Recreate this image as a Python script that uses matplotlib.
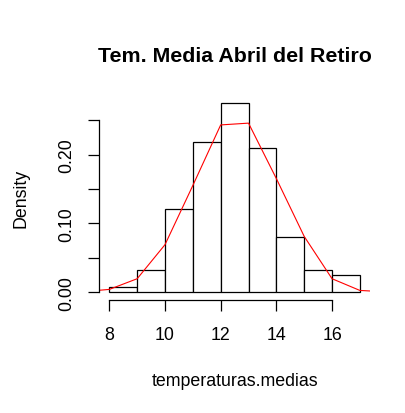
import matplotlib
matplotlib.use('Agg')
import matplotlib.pyplot as plt

plt.rcParams['font.family'] = ['Liberation Sans', 'DejaVu Sans']

# histogram of temperaturas.medias (density scale), bins of width 1
bin_edges = [8, 9, 10, 11, 12, 13, 14, 15, 16, 17]
densities = [0.0081, 0.0323, 0.121, 0.2177, 0.2742, 0.2097, 0.0806, 0.0323, 0.0242]

# red curve drawn over the histogram
curve_x = [7, 8, 9, 10, 11, 12, 13, 14, 15, 16, 17, 18]
curve_y = [0.0005, 0.004, 0.0195, 0.069, 0.155, 0.243, 0.2456, 0.165, 0.081, 0.0195, 0.0025, 0.0003]

xticks = [8, 10, 12, 14, 16]
yticks = [0.00, 0.05, 0.10, 0.15, 0.20, 0.25]
ytick_labels = ['0.00', '', '0.10', '', '0.20', '']

W, H = 406, 414
fig = plt.figure(figsize=(W / 100, H / 100), dpi=100, facecolor='white')
# plot region in pixels
left, right, top, bottom = 99.3, 369.9, 96.9, 300.7
ax = fig.add_axes([left / W, 1 - bottom / H, (right - left) / W, (bottom - top) / H])

ax.bar(bin_edges[:-1], densities, width=1, align='edge',
       facecolor='white', edgecolor='black', linewidth=0.9)
ax.plot(curve_x, curve_y, color='red', linewidth=0.8)

ymax = max(densities)
ax.set_xlim(8 - 0.36, 17 + 0.36)
ax.set_ylim(-0.04 * ymax, ymax * 1.04)

for s in ['top', 'right']:
    ax.spines[s].set_visible(False)
ax.spines['left'].set_bounds(0, 0.25)
ax.spines['bottom'].set_bounds(8, 16)
for s in ['left', 'bottom']:
    ax.spines[s].set_linewidth(0.9)

ax.set_xticks(xticks)
ax.set_xticklabels([str(t) for t in xticks])
ax.set_yticks(yticks)
ax.set_yticklabels(ytick_labels, rotation=90, va='center')
ax.tick_params(axis='both', length=7.9, width=0.9, labelsize=12.8, colors='black')
ax.tick_params(axis='x', pad=11)
ax.tick_params(axis='y', pad=9.5)

cx = (left + right) / 2 / W
fig.text(cx, 1 - 61.5 / H, 'Tem. Media Abril del Retiro', ha='center', va='baseline',
         fontsize=15.4, fontweight='bold')
fig.text(cx, 1 - 386.5 / H, 'temperaturas.medias', ha='center', va='baseline', fontsize=12.8)
fig.text(21.5 / W, 1 - 198.8 / H, 'Density', ha='center', va='center', rotation=90, fontsize=12.8)

fig.savefig('out.png', dpi=100, facecolor='white')
